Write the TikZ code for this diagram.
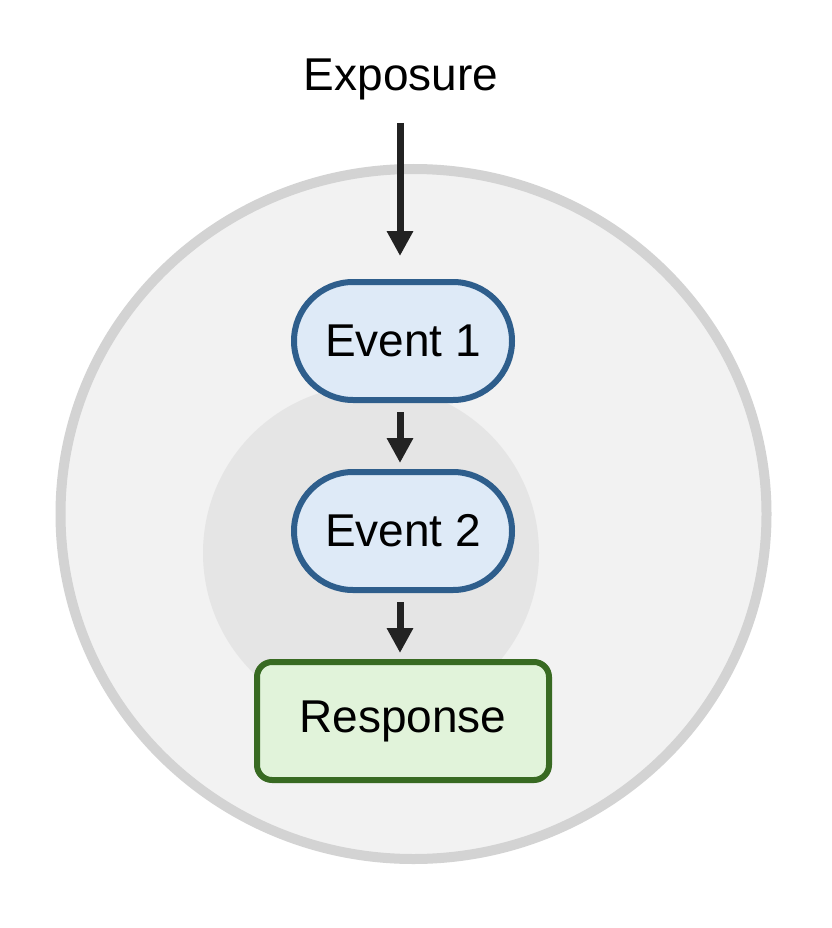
\documentclass[tikz,border=0pt]{standalone}
\usepackage{fontspec}
\setmainfont{Liberation Sans}
\usetikzlibrary{arrows.meta,calc}
\definecolor{cellfill}{HTML}{F2F2F2}
\definecolor{celledge}{HTML}{D3D3D3}
\definecolor{nucfill}{HTML}{E5E5E5}
\definecolor{evfill}{HTML}{DEEAF7}
\definecolor{evedge}{HTML}{2E5E8C}
\definecolor{respfill}{HTML}{E1F3DA}
\definecolor{respedge}{HTML}{386A22}
\definecolor{arrowcol}{HTML}{222222}
\tikzset{
  txt/.style={font=\fontsize{46}{55}\selectfont, text=black},
  eventbox/.style={txt, draw=evedge, fill=evfill, line width=6pt, rounded corners=59pt,
    minimum width=218pt, minimum height=118pt, inner sep=0pt},
  respbox/.style={txt, draw=respedge, fill=respfill, line width=6pt, rounded corners=15pt,
    minimum width=292pt, minimum height=118pt, inner sep=0pt},
  flow/.style={draw=arrowcol, line width=7pt, -{Triangle[length=25pt,width=25pt]}}
}
\begin{document}
\begin{tikzpicture}[x=1pt,y=-1pt]
\useasboundingbox (0,0) rectangle (831,928);
\fill[white] (0,0) rectangle (831,928);
% cell
\draw[fill=cellfill, draw=celledge, line width=10pt] (413.5,514) ellipse [x radius=353, y radius=345];
% nucleus
\fill[nucfill] (371,553) circle [radius=168];
% nodes
\node[txt] (exp) at (401,79) {Exposure};
\coordinate (expstart) at (400,123);
\coordinate (expend) at (400,256);
\node[eventbox] (e1) at (403,341) {Event 1};
\node[eventbox] (e2) at (403,531) {Event 2};
\node[respbox] (resp) at (403,721) {Response};
% arrows
\draw[flow] (expstart) -- (expend);
\draw[flow] ($(e1.south)+(-3,9)$) -- ($(e2.north)+(-3,-6)$);
\draw[flow] ($(e2.south)+(-3,9)$) -- ($(resp.north)+(-3,-6)$);
\end{tikzpicture}
\end{document}
